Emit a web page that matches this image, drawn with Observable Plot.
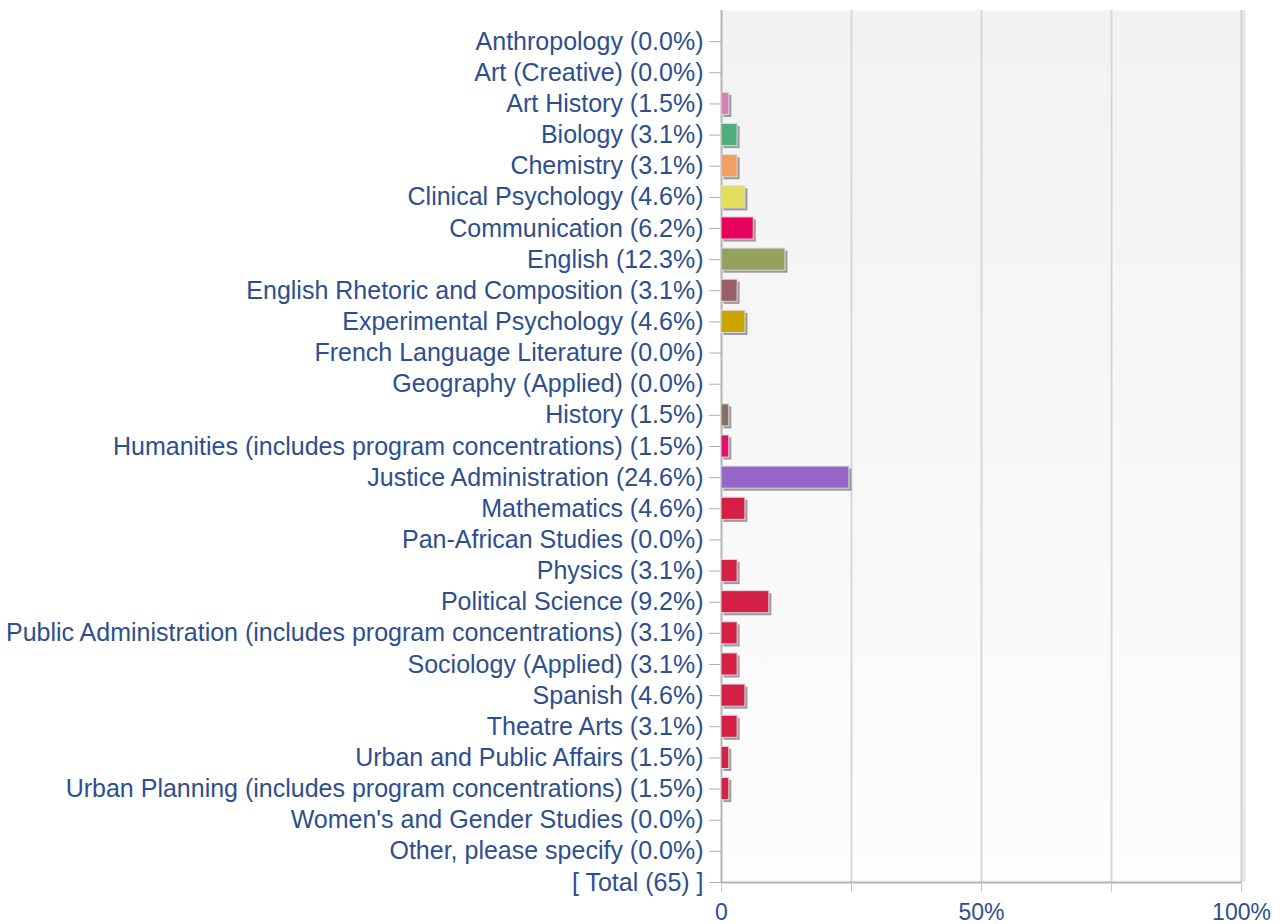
<!DOCTYPE html>
<html>
<head>
<meta charset="utf-8">
<script src="https://cdn.jsdelivr.net/npm/d3@7"></script>
<script src="https://cdn.jsdelivr.net/npm/@observablehq/plot@0.6"></script>
<style>
  html, body { margin: 0; padding: 0; background: #fff; }
  #chart svg { display: block; }
</style>
</head>
<body>
<div id="chart"></div>
<script>
const categories = [
  "Anthropology", "Art (Creative)", "Art History", "Biology", "Chemistry",
  "Clinical Psychology", "Communication", "English", "English Rhetoric and Composition",
  "Experimental Psychology", "French Language Literature", "Geography (Applied)", "History",
  "Humanities (includes program concentrations)", "Justice Administration", "Mathematics",
  "Pan-African Studies", "Physics", "Political Science",
  "Public Administration (includes program concentrations)", "Sociology (Applied)", "Spanish",
  "Theatre Arts", "Urban and Public Affairs", "Urban Planning (includes program concentrations)",
  "Women's and Gender Studies", "Other, please specify"
];
const percents = [0.0, 0.0, 1.5, 3.1, 3.1, 4.6, 6.2, 12.3, 3.1, 4.6, 0.0, 0.0, 1.5, 1.5, 24.6, 4.6,
  0.0, 3.1, 9.2, 3.1, 3.1, 4.6, 3.1, 1.5, 1.5, 0.0, 0.0];
const colors = ["#cccccc", "#cccccc", "#d97fb3", "#4fae7b", "#f0a064", "#e2dd5a", "#e8005f", "#93a35e",
  "#9a5f62", "#cca400", "#cccccc", "#cccccc", "#86706a", "#e0106b", "#9566c7", "#d42046",
  "#d42046", "#d42046", "#d42046", "#d42046", "#d42046", "#d42046", "#d42046", "#d42046",
  "#d42046", "#d42046", "#d42046"];
const totalLabel = "[ Total (65) ]";
const xTicks = [0, 25, 50, 75, 100];
const xTickLabels = ["0", "", "50%", "", "100%"];

const tickLabels = categories.map((c, i) => `${c} (${percents[i].toFixed(1)}%)`).concat([totalLabel]);
const rows = categories.map((c, i) => ({i, cat: c, pct: percents[i], color: colors[i]})).filter(d => d.pct > 0);
const nRows = tickLabels.length;
const half = 0.355;

const textColor = "#2d4f8e";

const chart = Plot.plot({
  width: 1282,
  height: 924,
  marginLeft: 721,
  marginRight: 41,
  marginTop: 10,
  marginBottom: 42,
  style: {fontFamily: "'Liberation Sans', Arial, sans-serif", background: "#fff"},
  x: {domain: [0, 100]},
  y: {domain: [nRows - 1, -1]},
  marks: [
    Plot.frame({fill: "url(#bgGrad)", stroke: null}),
    Plot.ruleX([25, 50, 75], {stroke: "#d8d8d8", strokeWidth: 2}),
    Plot.ruleX([100], {stroke: "#e6e6e6", strokeWidth: 3, dx: 2.5}),
    Plot.ruleX([100], {stroke: "#cfcfcf", strokeWidth: 2}),
    Plot.axisY({
      ticks: d3.range(nRows),
      tickFormat: i => tickLabels[i],
      tickSize: 12,
      tickPadding: 6,
      fontSize: 25,
      stroke: "#b0b0b0",
      fill: textColor,
      label: null
    }),
    Plot.axisX({
      ticks: xTicks,
      tickFormat: d => xTickLabels[xTicks.indexOf(d)],
      tickSize: 10,
      tickPadding: 11,
      fontSize: 23,
      stroke: "#c8c8c8",
      fill: textColor,
      label: null
    }),
    Plot.ruleY([nRows - 1], {x1: 0, x2: 100, stroke: "#b4b4b4", strokeWidth: 2}),
    Plot.ruleX([0], {y1: -1, y2: nRows - 1, stroke: "#b4b4b4", strokeWidth: 2}),
    Plot.rectX(rows, {x1: 0, x2: "pct", y1: d => d.i - half, y2: d => d.i + half, fill: "#8a8a8a", fillOpacity: 0.85, dx: 2.5, dy: 2.5}),
    Plot.rectX(rows, {x1: 0, x2: "pct", y1: d => d.i - half, y2: d => d.i + half, fill: "color", stroke: "#d9d9d9", strokeWidth: 1})
  ]
});

const svg = d3.select(chart);
const defs = svg.insert("defs", ":first-child");
const g = defs.append("linearGradient").attr("id", "bgGrad").attr("x1", 0).attr("y1", 0).attr("x2", 0).attr("y2", 1);
g.append("stop").attr("offset", "0%").attr("stop-color", "#f2f2f2");
g.append("stop").attr("offset", "100%").attr("stop-color", "#fdfdfd");

document.getElementById("chart").appendChild(chart);
</script>
</body>
</html>
